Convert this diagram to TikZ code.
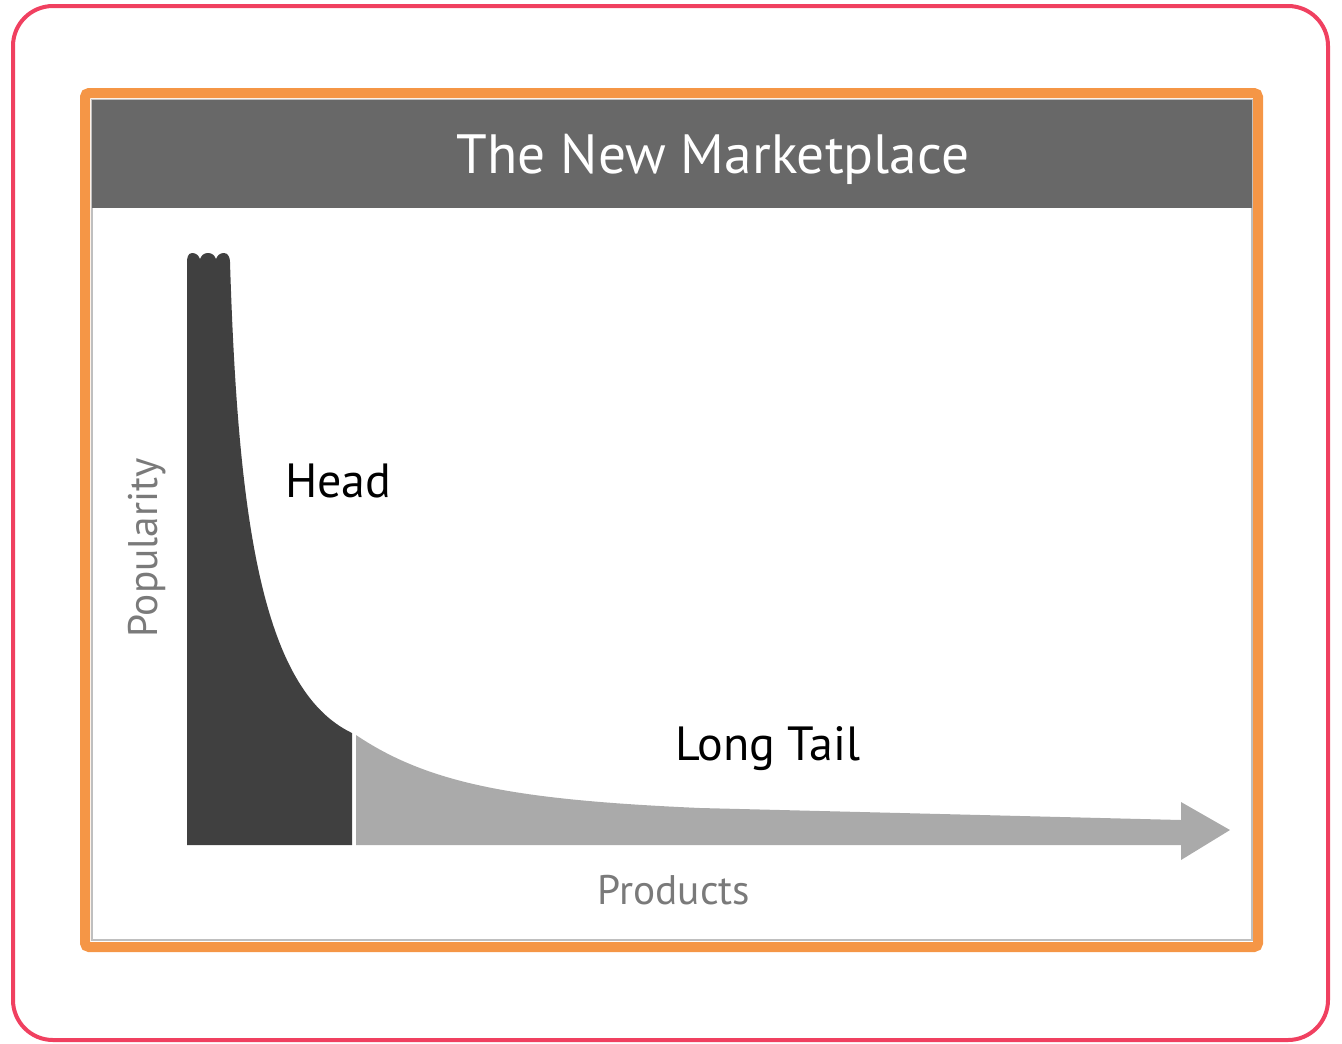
\documentclass[tikz,border=0pt]{standalone}
\usepackage{fontspec}
\newfontfamily\chartfont{PT Sans}
\usetikzlibrary{positioning}
\definecolor{framepink}{RGB}{240,64,96}
\definecolor{frameorange}{RGB}{245,150,70}
\definecolor{headergray}{RGB}{104,104,104}
\definecolor{headgray}{RGB}{64,64,64}
\definecolor{tailgray}{RGB}{170,170,170}
\definecolor{labelgray}{RGB}{122,122,122}
\begin{document}
\begin{tikzpicture}[
        x=0.75pt, y=-0.75pt,
        % text styles of the chart
        every node/.style={inner sep=0pt, font=\chartfont},
        bigtext/.style={font=\chartfont\fontsize{36}{40}\selectfont, anchor=base west},
        axistext/.style={font=\chartfont\fontsize{31}{35}\selectfont, text=labelgray, anchor=base}
    ]
    \useasboundingbox (0,0) rectangle (1342,1043);
    % outer frame and the picture frame
    \draw[framepink, line width=3pt, rounded corners=30pt] (13,6) rectangle (1328,1040);
    \draw[frameorange, line width=7.5pt, rounded corners=3pt] (85,93) rectangle (1258,947);
    \draw[gray!50, line width=1pt] (92,100) rectangle (1252,940);
    \fill[headergray] (92,100) rectangle (1252,208);
    \node[font=\chartfont\fontsize{41.5}{46}\selectfont, text=white, anchor=base] (title) at (713,173) {The New Marketplace};
    % the head, with a torn top
    \fill[headgray] (187,845) -- (187,262) to[out=90,in=180] (192,253) to[out=0,in=110] (200,259)
        to[out=70,in=180] (208,253) to[out=0,in=110] (216,259) to[out=70,in=180] (224,253)
        to[out=0,in=90] (230,262) .. controls (238,520) and (262,690) .. (352,733) -- (352,845) -- cycle;
    % the long tail with its arrow
    \fill[tailgray] (356,845) -- (356,735) .. controls (430,785) and (520,800) .. (700,808)
        -- (1181,820) -- (1181,802) -- (1230,830) -- (1181,860) -- (1181,845) -- cycle;
    \node[bigtext] (head) at (285,497) {Head};
    \node[bigtext] (tail) at (675,760) {Long Tail};
    \node[axistext] (products) at (674,904) {Products};
    \node[axistext, rotate=90] (popularity) at (157,548) {Popularity};
\end{tikzpicture}
\end{document}
